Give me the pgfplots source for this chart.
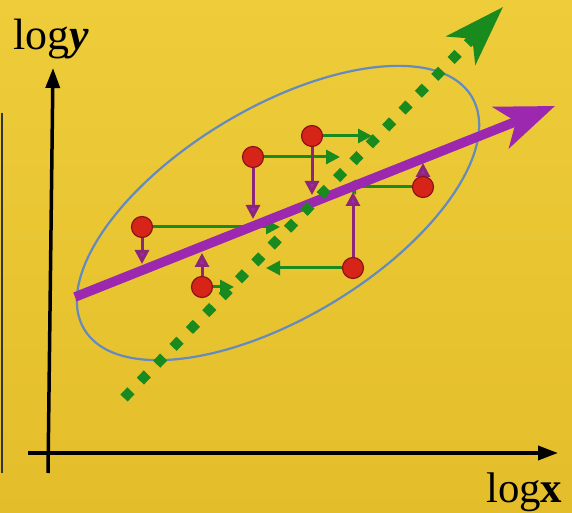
\documentclass[border=0pt]{standalone}
\usepackage{pgfplots}
\pgfplotsset{compat=1.18}
\usetikzlibrary{arrows.meta}
\usepackage{fontspec}
\setmainfont{Liberation Serif}
\definecolor{bgtop}{RGB}{238,204,58}
\definecolor{bgbot}{RGB}{228,190,42}
\definecolor{ptred}{RGB}{214,36,24}
\definecolor{ptedge}{RGB}{140,20,20}
\definecolor{purp}{RGB}{155,40,175}
\definecolor{purpdark}{RGB}{140,38,120}
\definecolor{grn}{RGB}{24,138,30}
\definecolor{ellc}{RGB}{100,138,190}
\begin{document}
\begin{tikzpicture}
\begin{axis}[
  width=572bp, height=513bp, scale only axis,
  xmin=0, xmax=572, ymin=0, ymax=513,
  hide axis, clip=true,
]
% background
\fill[top color=bgtop, bottom color=bgbot] (rel axis cs:0,0) rectangle (rel axis cs:1,1);
\addplot[gray!40!black, line width=1.2bp] coordinates {(2,40) (2,400)};
% ellipse
\draw[ellc, line width=2.2bp, rotate around={31:(axis cs:278,300)}] (axis cs:278,300) ellipse [x radius=226bp, y radius=105bp];
% axes
\addplot[black, line width=3.5bp, -{Triangle[length=20bp,width=14bp]}] coordinates {(48,40) (53,445)};
\addplot[black, line width=3.5bp, -{Triangle[length=20bp,width=14bp]}] coordinates {(28,60) (558,60)};
% green horizontal arrows
\addplot[grn, line width=3bp, -{Triangle[length=14bp,width=14bp]}] coordinates {(142,286) (280,286)};
\addplot[grn, line width=3bp, -{Triangle[length=14bp,width=14bp]}] coordinates {(253,356) (340,356)};
\addplot[grn, line width=3bp, -{Triangle[length=14bp,width=14bp]}] coordinates {(312,377) (372,377)};
\addplot[grn, line width=3bp, -{Triangle[length=14bp,width=14bp]}] coordinates {(423,326) (342,326)};
\addplot[grn, line width=3bp, -{Triangle[length=14bp,width=14bp]}] coordinates {(353,245) (266,245)};
\addplot[grn, line width=3bp, -{Triangle[length=14bp,width=14bp]}] coordinates {(202,226) (234,226)};
% purple vertical arrows
\addplot[purpdark, line width=3bp, -{Triangle[length=14bp,width=14bp,fill=purp]}] coordinates {(142,286) (142,249)};
\addplot[purpdark, line width=3bp, -{Triangle[length=14bp,width=14bp,fill=purp]}] coordinates {(253,356) (253,294)};
\addplot[purpdark, line width=3bp, -{Triangle[length=14bp,width=14bp,fill=purp]}] coordinates {(312,377) (312,318)};
\addplot[purpdark, line width=3bp, -{Triangle[length=14bp,width=14bp,fill=purp]}] coordinates {(423,326) (423,350)};
\addplot[purpdark, line width=3bp, -{Triangle[length=14bp,width=14bp,fill=purp]}] coordinates {(353,245) (353,321)};
\addplot[purpdark, line width=3bp, -{Triangle[length=14bp,width=14bp,fill=purp]}] coordinates {(202,226) (202,260)};
% purple regression line
\addplot[purp, line width=9.5bp, -{Stealth[length=58bp,width=44bp,inset=16bp]}] coordinates {(75,216) (555,407)};
% green dotted line
\addplot[grn, line width=10bp, dash pattern=on 10bp off 13.5bp, -{Stealth[length=60bp,width=40bp,inset=16bp]}] coordinates {(124,115) (503,506)};
% points
\addplot[only marks, mark=*, mark size=10.5bp, mark options={fill=ptred, draw=ptedge, line width=1.2bp}] coordinates {
(142,286) (253,356) (312,377) (423,326) (353,245) (202,226)};
% labels
\node[anchor=base west, inner sep=0pt] at (axis cs:13,463) {\fontsize{44}{44}\selectfont log\textbf{\textit{y}}};
\node[anchor=base west, inner sep=0pt] at (axis cs:486,11) {\fontsize{43}{43}\selectfont log\textbf{x}};
\end{axis}
\end{tikzpicture}
\end{document}
